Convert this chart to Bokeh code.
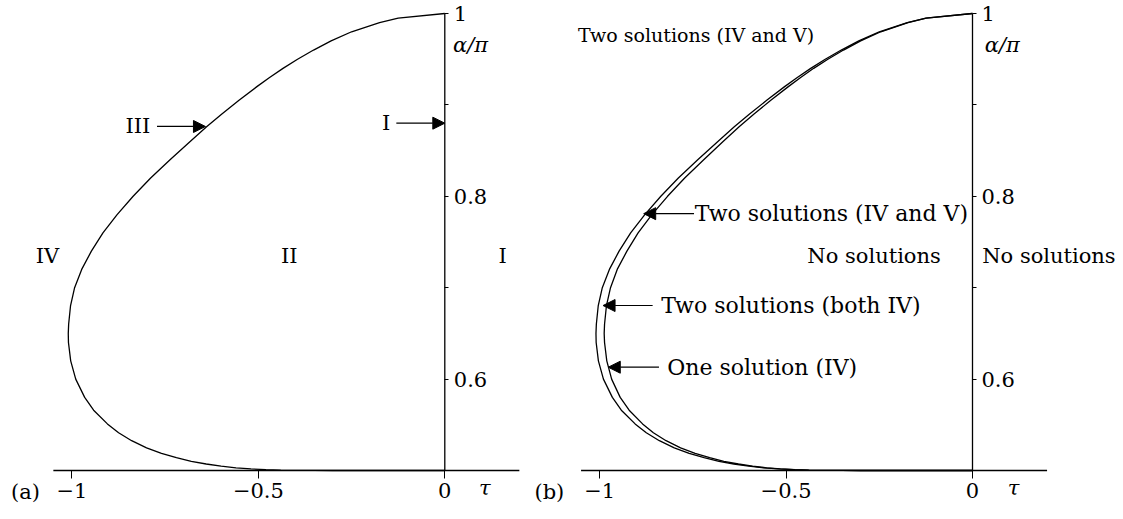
from bokeh.plotting import figure
from bokeh.models import LinearAxis, FixedTicker, Label, Arrow, NormalHead, Range1d
from bokeh.layouts import row
from bokeh.embed import file_html
from bokeh.resources import INLINE

# alpha/pi sampled along the boundary curves
alpha = [1.0, 0.995, 0.99, 0.98, 0.97, 0.96, 0.95, 0.94, 0.93, 0.92, 0.905,
         0.89, 0.876, 0.86, 0.84, 0.82, 0.80, 0.78, 0.76, 0.74, 0.72, 0.70,
         0.68, 0.66, 0.65, 0.64, 0.62, 0.60, 0.58, 0.566, 0.551, 0.5413,
         0.5326, 0.5248, 0.5188, 0.514, 0.5101, 0.5071, 0.50477, 0.50295,
         0.50169, 0.50085, 0.50038, 0.50015, 0.50004, 0.5, 0.5]
# tau on the outer boundary (limit of region IV)
tau_outer = [0.0, -0.125, -0.175, -0.25, -0.305, -0.352, -0.395, -0.434,
             -0.47, -0.504, -0.552, -0.598, -0.639, -0.683, -0.737, -0.789,
             -0.836, -0.879, -0.917, -0.948, -0.974, -0.993, -1.004, -1.009,
             -1.010, -1.0095, -1.0035, -0.99, -0.966, -0.942, -0.905, -0.875,
             -0.84, -0.80, -0.76, -0.72, -0.68, -0.64, -0.60, -0.56, -0.52,
             -0.48, -0.44, -0.40, -0.35, -0.3, 0.0]
# tau on the inner boundary (panel b)
tau_inner = [0.0, -0.124, -0.173, -0.246, -0.300, -0.346, -0.388, -0.426,
             -0.461, -0.494, -0.541, -0.586, -0.626, -0.669, -0.721, -0.772,
             -0.818, -0.860, -0.897, -0.927, -0.953, -0.971, -0.982, -0.987,
             -0.988, -0.987, -0.981, -0.968, -0.945, -0.921, -0.885, -0.856,
             -0.822, -0.783, -0.744, -0.705, -0.667, -0.628, -0.590, -0.552,
             -0.515, -0.476, -0.438, -0.398, -0.349, -0.3, 0.0]

x_ticks = [-1.0, -0.5, 0.0]
x_tick_labels = {-1.0: "\u22121", -0.5: "\u22120.5", 0.0: "0"}
y_ticks = [0.6, 0.7, 0.8, 0.9, 1.0]
y_tick_labels = {0.6: "0.6", 0.7: "", 0.8: "0.8", 0.9: "", 1.0: "1"}

# axis extents in data units
X_LO, X_HI = -1.05, 0.2
Y_LO, Y_HI = 0.5, 1.0

FONT = "DejaVu Serif"
FS = "21px"


def make_panel(width, x0, x1):
    p = figure(width=width, height=519,
               x_range=Range1d(x0, x1), y_range=Range1d(0.44639, 1.014223),
               output_backend="svg", toolbar_location=None,
               x_axis_location=None, y_axis_location=None,
               min_border_left=0, min_border_right=0,
               min_border_top=0, min_border_bottom=0)
    p.grid.visible = False
    p.outline_line_color = None

    xa = LinearAxis(fixed_location=Y_LO, ticker=FixedTicker(ticks=x_ticks),
                    major_label_overrides=x_tick_labels)
    xa.axis_line_color = None
    xa.minor_tick_line_color = None
    xa.major_tick_out = 8
    xa.major_tick_in = 0
    xa.major_tick_line_color = "black"
    xa.major_label_text_font = FONT
    xa.major_label_text_font_size = FS
    xa.major_label_text_color = "black"
    xa.major_label_standoff = 4
    p.add_layout(xa, "below")

    ya = LinearAxis(fixed_location=0.0, ticker=FixedTicker(ticks=y_ticks),
                    major_label_overrides=y_tick_labels)
    ya.axis_line_color = None
    ya.minor_tick_line_color = None
    ya.major_tick_out = 4
    ya.major_tick_in = 0
    ya.major_tick_line_color = "black"
    ya.major_label_text_font = FONT
    ya.major_label_text_font_size = FS
    ya.major_label_text_color = "black"
    ya.major_label_standoff = 5
    p.add_layout(ya, "right")

    # axis lines: tau axis along alpha/pi = 0.5, alpha/pi axis along tau = 0
    p.segment(x0=[X_LO, 0.0], y0=[Y_LO, Y_LO], x1=[X_HI, 0.0], y1=[Y_LO, Y_HI],
              line_color="black", line_width=1.3)
    return p


def add_text(p, x, y, text, align="center", style="normal", size=FS):
    p.add_layout(Label(x=x, y=y, text=text, text_font=FONT, text_font_size=size,
                       text_align=align, text_baseline="middle",
                       text_color="black", text_font_style=style))


def add_arrow(p, x0, y0, x1, y1):
    p.add_layout(Arrow(end=NormalHead(size=12, fill_color="black",
                                      line_color="black", line_width=1),
                       x_start=x0, y_start=y0, x_end=x1, y_end=y1,
                       line_color="black", line_width=1.2))


# ---- panel (a)
pa = make_panel(527, -1.19179, 0.22184)
pa.line(tau_outer, alpha, line_color="black", line_width=1.3)
add_text(pa, -1.066, 0.735, "IV")
add_text(pa, -0.417, 0.735, "II")
add_text(pa, 0.155, 0.735, "I")
add_text(pa, -0.79, 0.8764, "III", align="right")
add_arrow(pa, -0.772, 0.8764, -0.642, 0.8764)
add_text(pa, -0.146, 0.880, "I", align="right")
add_arrow(pa, -0.13, 0.880, 0.0, 0.880)
add_text(pa, -1.125, 0.476, "(a)")
add_text(pa, 0.107, 0.481, "\u03c4", style="italic")
add_text(pa, 0.069, 0.965, "\u03b1/\u03c0", style="italic")

# ---- panel (b)
pb = make_panel(596, -1.19367, 0.40504)
pb.line(tau_outer, alpha, line_color="black", line_width=1.3)
pb.line(tau_inner, alpha, line_color="black", line_width=1.3)
add_text(pb, -1.058, 0.976, "Two solutions (IV and V)", align="left", size="19px")
add_text(pb, -0.745, 0.781, "Two solutions (IV and V)", align="left", size="22px")
add_arrow(pb, -0.747, 0.781, -0.882, 0.781)
add_text(pb, -0.443, 0.735, "No solutions", align="left")
add_text(pb, -0.835, 0.6805, "Two solutions (both IV)", align="left", size="22px")
add_arrow(pb, -0.858, 0.6805, -0.991, 0.6805)
add_text(pb, -0.819, 0.613, "One solution (IV)", align="left", size="22px")
add_arrow(pb, -0.841, 0.613, -0.977, 0.613)
add_text(pb, 0.026, 0.735, "No solutions", align="left")
add_text(pb, -1.135, 0.476, "(b)")
add_text(pb, 0.11, 0.481, "\u03c4", style="italic")
add_text(pb, 0.08, 0.965, "\u03b1/\u03c0", style="italic")

layout = row(pa, pb)
open("out.html", "w").write(file_html(layout, INLINE))
